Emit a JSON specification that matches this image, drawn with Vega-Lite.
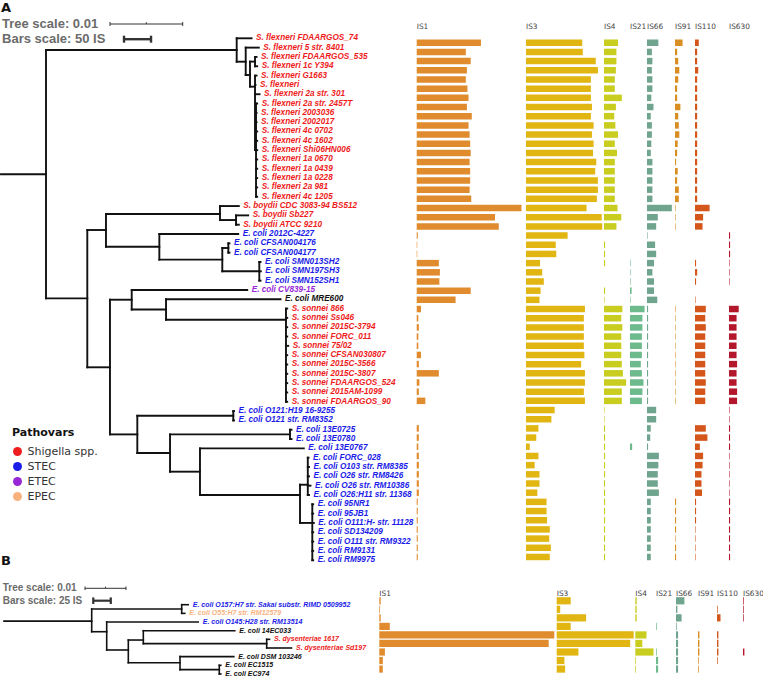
{
"$schema": "https://vega.github.io/schema/vega-lite/v6.json",
"width": 763, "height": 679, "autosize": "none", "padding": 0, "background": "white",
"config": {"view": {"stroke": null}},
"datasets": {
"leavesA": [
{"row":1,"strain":"S. flexneri FDAARGOS_74","pathovar":"Shigella spp.","tip":0.02827,"IS1":119,"IS3":104,"IS4":26,"IS21":0,"IS66":21,"IS91":14,"IS110":7,"IS630":0},
{"row":2,"strain":"S. flexneri 5 str. 8401","pathovar":"Shigella spp.","tip":0.02927,"IS1":91,"IS3":105,"IS4":23,"IS21":0,"IS66":9,"IS91":4,"IS110":4,"IS630":0},
{"row":3,"strain":"S. flexneri FDAARGOS_535","pathovar":"Shigella spp.","tip":0.02896,"IS1":100,"IS3":129,"IS4":23,"IS21":0,"IS66":10,"IS91":6,"IS110":4,"IS630":0},
{"row":4,"strain":"S. flexneri 1c Y394","pathovar":"Shigella spp.","tip":0.02905,"IS1":93,"IS3":133,"IS4":22,"IS21":0,"IS66":9,"IS91":8,"IS110":6,"IS630":0},
{"row":5,"strain":"S. flexneri G1663","pathovar":"Shigella spp.","tip":0.02896,"IS1":91,"IS3":120,"IS4":20,"IS21":0,"IS66":10,"IS91":6,"IS110":4,"IS630":0},
{"row":6,"strain":"S. flexneri","pathovar":"Shigella spp.","tip":0.02882,"IS1":94,"IS3":120,"IS4":20,"IS21":0,"IS66":10,"IS91":4,"IS110":4,"IS630":0},
{"row":7,"strain":"S. flexneri 2a str. 301","pathovar":"Shigella spp.","tip":0.02937,"IS1":96,"IS3":120,"IS4":33,"IS21":0,"IS66":8,"IS91":4,"IS110":4,"IS630":0},
{"row":8,"strain":"S. flexneri 2a str. 2457T","pathovar":"Shigella spp.","tip":0.02905,"IS1":93,"IS3":122,"IS4":22,"IS21":0,"IS66":12,"IS91":10,"IS110":4,"IS630":0},
{"row":9,"strain":"S. flexneri 2003036","pathovar":"Shigella spp.","tip":0.02896,"IS1":102,"IS3":120,"IS4":19,"IS21":0,"IS66":7,"IS91":6,"IS110":4,"IS630":0},
{"row":10,"strain":"S. flexneri 2002017","pathovar":"Shigella spp.","tip":0.02896,"IS1":96,"IS3":125,"IS4":21,"IS21":0,"IS66":9,"IS91":7,"IS110":4,"IS630":0},
{"row":11,"strain":"S. flexneri 4c 0702","pathovar":"Shigella spp.","tip":0.02905,"IS1":98,"IS3":122,"IS4":26,"IS21":0,"IS66":9,"IS91":8,"IS110":4,"IS630":0},
{"row":12,"strain":"S. flexneri 4c 1602","pathovar":"Shigella spp.","tip":0.02905,"IS1":99,"IS3":125,"IS4":20,"IS21":0,"IS66":8,"IS91":5,"IS110":4,"IS630":0},
{"row":13,"strain":"S. flexneri Shi06HN006","pathovar":"Shigella spp.","tip":0.02905,"IS1":100,"IS3":124,"IS4":24,"IS21":0,"IS66":7,"IS91":4,"IS110":4,"IS630":0},
{"row":14,"strain":"S. flexneri 1a 0670","pathovar":"Shigella spp.","tip":0.02905,"IS1":98,"IS3":130,"IS4":20,"IS21":0,"IS66":10,"IS91":2,"IS110":4,"IS630":0},
{"row":15,"strain":"S. flexneri 1a 0439","pathovar":"Shigella spp.","tip":0.02905,"IS1":99,"IS3":128,"IS4":20,"IS21":0,"IS66":10,"IS91":5,"IS110":4,"IS630":0},
{"row":16,"strain":"S. flexneri 1a 0228","pathovar":"Shigella spp.","tip":0.02905,"IS1":99,"IS3":133,"IS4":20,"IS21":0,"IS66":10,"IS91":4,"IS110":4,"IS630":0},
{"row":17,"strain":"S. flexneri 2a 981","pathovar":"Shigella spp.","tip":0.02905,"IS1":98,"IS3":133,"IS4":20,"IS21":0,"IS66":10,"IS91":7,"IS110":4,"IS630":0},
{"row":18,"strain":"S. flexneri 4c 1205","pathovar":"Shigella spp.","tip":0.02905,"IS1":101,"IS3":131,"IS4":20,"IS21":0,"IS66":10,"IS91":7,"IS110":4,"IS630":0},
{"row":19,"strain":"S. boydii CDC 3083-94 BS512","pathovar":"Shigella spp.","tip":0.02652,"IS1":194,"IS3":112,"IS4":25,"IS21":0,"IS66":46,"IS91":1,"IS110":27,"IS630":0},
{"row":20,"strain":"S. boydii Sb227","pathovar":"Shigella spp.","tip":0.02781,"IS1":145,"IS3":140,"IS4":32,"IS21":0,"IS66":20,"IS91":1,"IS110":15,"IS630":0},
{"row":21,"strain":"S. boydii ATCC 9210","pathovar":"Shigella spp.","tip":0.02652,"IS1":152,"IS3":141,"IS4":23,"IS21":0,"IS66":17,"IS91":1,"IS110":14,"IS630":0},
{"row":22,"strain":"E. coli 2012C-4227","pathovar":"STEC","tip":0.02644,"IS1":2,"IS3":77,"IS4":0,"IS21":0,"IS66":1,"IS91":0,"IS110":0,"IS630":2},
{"row":23,"strain":"E. coli CFSAN004176","pathovar":"STEC","tip":0.02524,"IS1":1,"IS3":55,"IS4":2,"IS21":0,"IS66":15,"IS91":0,"IS110":0,"IS630":2},
{"row":24,"strain":"E. coli CFSAN004177","pathovar":"STEC","tip":0.02524,"IS1":1,"IS3":56,"IS4":2,"IS21":0,"IS66":17,"IS91":0,"IS110":0,"IS630":2},
{"row":25,"strain":"E. coli SMN013SH2","pathovar":"STEC","tip":0.02951,"IS1":41,"IS3":26,"IS4":2,"IS21":1,"IS66":13,"IS91":0,"IS110":2,"IS630":1},
{"row":26,"strain":"E. coli SMN197SH3","pathovar":"STEC","tip":0.02955,"IS1":43,"IS3":30,"IS4":0,"IS21":1,"IS66":10,"IS91":0,"IS110":4,"IS630":1},
{"row":27,"strain":"E. coli SMN152SH1","pathovar":"STEC","tip":0.02951,"IS1":42,"IS3":33,"IS4":0,"IS21":1,"IS66":13,"IS91":0,"IS110":2,"IS630":1},
{"row":28,"strain":"E. coli CV839-15","pathovar":"ETEC","tip":0.02768,"IS1":100,"IS3":27,"IS4":2,"IS21":3,"IS66":13,"IS91":0,"IS110":0,"IS630":0},
{"row":29,"strain":"E. coli MRE600","pathovar":"none","tip":0.03226,"IS1":72,"IS3":25,"IS4":1,"IS21":1,"IS66":19,"IS91":0,"IS110":1,"IS630":0},
{"row":30,"strain":"S. sonnei 866","pathovar":"Shigella spp.","tip":0.03318,"IS1":8,"IS3":109,"IS4":34,"IS21":27,"IS66":2,"IS91":1,"IS110":20,"IS630":18},
{"row":31,"strain":"S. sonnei Ss046","pathovar":"Shigella spp.","tip":0.03318,"IS1":3,"IS3":107,"IS4":32,"IS21":23,"IS66":2,"IS91":1,"IS110":19,"IS630":14},
{"row":32,"strain":"S. sonnei 2015C-3794","pathovar":"Shigella spp.","tip":0.03318,"IS1":4,"IS3":107,"IS4":34,"IS21":23,"IS66":2,"IS91":1,"IS110":20,"IS630":14},
{"row":33,"strain":"S. sonnei FORC_011","pathovar":"Shigella spp.","tip":0.03318,"IS1":3,"IS3":107,"IS4":32,"IS21":22,"IS66":2,"IS91":1,"IS110":19,"IS630":14},
{"row":34,"strain":"S. sonnei 75/02","pathovar":"Shigella spp.","tip":0.03332,"IS1":3,"IS3":107,"IS4":32,"IS21":22,"IS66":2,"IS91":1,"IS110":19,"IS630":14},
{"row":35,"strain":"S. sonnei CFSAN030807","pathovar":"Shigella spp.","tip":0.03318,"IS1":8,"IS3":108,"IS4":32,"IS21":22,"IS66":2,"IS91":1,"IS110":19,"IS630":14},
{"row":36,"strain":"S. sonnei 2015C-3566","pathovar":"Shigella spp.","tip":0.03318,"IS1":4,"IS3":102,"IS4":33,"IS21":20,"IS66":2,"IS91":1,"IS110":19,"IS630":15},
{"row":37,"strain":"S. sonnei 2015C-3807","pathovar":"Shigella spp.","tip":0.03318,"IS1":41,"IS3":109,"IS4":35,"IS21":22,"IS66":2,"IS91":1,"IS110":19,"IS630":14},
{"row":38,"strain":"S. sonnei FDAARGOS_524","pathovar":"Shigella spp.","tip":0.03318,"IS1":5,"IS3":109,"IS4":41,"IS21":25,"IS66":2,"IS91":1,"IS110":20,"IS630":14},
{"row":39,"strain":"S. sonnei 2015AM-1099","pathovar":"Shigella spp.","tip":0.03318,"IS1":4,"IS3":107,"IS4":33,"IS21":23,"IS66":2,"IS91":1,"IS110":19,"IS630":15},
{"row":40,"strain":"S. sonnei FDAARGOS_90","pathovar":"Shigella spp.","tip":0.03318,"IS1":16,"IS3":109,"IS4":33,"IS21":22,"IS66":2,"IS91":1,"IS110":19,"IS630":15},
{"row":41,"strain":"E. coli O121:H19 16-9255","pathovar":"STEC","tip":0.02586,"IS1":0,"IS3":53,"IS4":1,"IS21":0,"IS66":17,"IS91":0,"IS110":0,"IS630":1},
{"row":42,"strain":"E. coli O121 str. RM8352","pathovar":"STEC","tip":0.02586,"IS1":0,"IS3":47,"IS4":1,"IS21":0,"IS66":17,"IS91":0,"IS110":0,"IS630":1},
{"row":43,"strain":"E. coli 13E0725","pathovar":"STEC","tip":0.03377,"IS1":4,"IS3":23,"IS4":2,"IS21":0,"IS66":7,"IS91":0,"IS110":20,"IS630":2},
{"row":44,"strain":"E. coli 13E0780","pathovar":"STEC","tip":0.03377,"IS1":4,"IS3":19,"IS4":2,"IS21":0,"IS66":6,"IS91":0,"IS110":23,"IS630":2},
{"row":45,"strain":"E. coli 13E0767","pathovar":"STEC","tip":0.03546,"IS1":3,"IS3":7,"IS4":2,"IS21":4,"IS66":2,"IS91":0,"IS110":9,"IS630":2},
{"row":46,"strain":"E. coli FORC_028","pathovar":"STEC","tip":0.03611,"IS1":4,"IS3":23,"IS4":2,"IS21":0,"IS66":22,"IS91":0,"IS110":15,"IS630":1},
{"row":47,"strain":"E. coli O103 str. RM8385","pathovar":"STEC","tip":0.03618,"IS1":4,"IS3":16,"IS4":2,"IS21":0,"IS66":21,"IS91":0,"IS110":14,"IS630":1},
{"row":48,"strain":"E. coli O26 str. RM8426","pathovar":"STEC","tip":0.03618,"IS1":4,"IS3":25,"IS4":2,"IS21":0,"IS66":20,"IS91":0,"IS110":12,"IS630":1},
{"row":49,"strain":"E. coli O26 str. RM10386","pathovar":"STEC","tip":0.03638,"IS1":4,"IS3":25,"IS4":2,"IS21":0,"IS66":20,"IS91":0,"IS110":12,"IS630":1},
{"row":50,"strain":"E. coli O26:H11 str. 11368","pathovar":"STEC","tip":0.03618,"IS1":4,"IS3":21,"IS4":2,"IS21":0,"IS66":22,"IS91":0,"IS110":13,"IS630":1},
{"row":51,"strain":"E. coli 95NR1","pathovar":"STEC","tip":0.03675,"IS1":2,"IS3":38,"IS4":2,"IS21":0,"IS66":7,"IS91":2,"IS110":2,"IS630":2},
{"row":52,"strain":"E. coli 95JB1","pathovar":"STEC","tip":0.03675,"IS1":2,"IS3":38,"IS4":2,"IS21":0,"IS66":7,"IS91":2,"IS110":2,"IS630":2},
{"row":53,"strain":"E. coli O111:H- str. 11128","pathovar":"STEC","tip":0.03684,"IS1":2,"IS3":39,"IS4":2,"IS21":0,"IS66":7,"IS91":2,"IS110":2,"IS630":2},
{"row":54,"strain":"E. coli SD134209","pathovar":"STEC","tip":0.03675,"IS1":2,"IS3":44,"IS4":2,"IS21":0,"IS66":7,"IS91":2,"IS110":1,"IS630":2},
{"row":55,"strain":"E. coli O111 str. RM9322","pathovar":"STEC","tip":0.03675,"IS1":2,"IS3":43,"IS4":2,"IS21":0,"IS66":7,"IS91":1,"IS110":1,"IS630":2},
{"row":56,"strain":"E. coli RM9131","pathovar":"STEC","tip":0.03675,"IS1":2,"IS3":46,"IS4":2,"IS21":0,"IS66":7,"IS91":2,"IS110":1,"IS630":2},
{"row":57,"strain":"E. coli RM9975","pathovar":"STEC","tip":0.03675,"IS1":2,"IS3":44,"IS4":2,"IS21":0,"IS66":7,"IS91":2,"IS110":1,"IS630":2}
],
"treeA": [
{"x":-0.00619,"x2":0,"y":15.59,"y2":15.59},{"x":0,"x2":0,"y":2.255,"y2":28.9},{"x":0,"x2":0.02623,"y":2.255,"y2":2.255},{"x":0,"x2":0.00568,"y":28.9,"y2":28.9},
{"x":0.02623,"x2":0.02623,"y":1,"y2":3.51},{"x":0.02623,"x2":0.02827,"y":1,"y2":1},{"x":0.02623,"x2":0.02747,"y":3.51,"y2":3.51},
{"x":0.02747,"x2":0.02747,"y":2,"y2":4.94},{"x":0.02747,"x2":0.02927,"y":2,"y2":2},{"x":0.02747,"x2":0.02806,"y":4.94,"y2":4.94},
{"x":0.02806,"x2":0.02806,"y":3.5,"y2":6.19},{"x":0.02806,"x2":0.02875,"y":3.5,"y2":3.5},{"x":0.02806,"x2":0.02875,"y":6.19,"y2":6.19},
{"x":0.02875,"x2":0.02875,"y":3,"y2":4},{"x":0.02875,"x2":0.02896,"y":3,"y2":3},{"x":0.02875,"x2":0.02905,"y":4,"y2":4},
{"x":0.02875,"x2":0.02875,"y":5,"y2":13},{"x":0.02875,"x2":0.02896,"y":5,"y2":5},{"x":0.02875,"x2":0.02882,"y":6,"y2":6},{"x":0.02875,"x2":0.02937,"y":7,"y2":7},
{"x":0.02875,"x2":0.02889,"y":13,"y2":13},{"x":0.02889,"x2":0.02889,"y":8,"y2":18},
{"x":0.02889,"x2":0.02905,"y":8,"y2":8},{"x":0.02889,"x2":0.02896,"y":9,"y2":9},{"x":0.02889,"x2":0.02896,"y":10,"y2":10},{"x":0.02889,"x2":0.02905,"y":11,"y2":11},
{"x":0.02889,"x2":0.02905,"y":12,"y2":12},{"x":0.02889,"x2":0.02905,"y":13,"y2":13},{"x":0.02889,"x2":0.02905,"y":14,"y2":14},{"x":0.02889,"x2":0.02905,"y":15,"y2":15},
{"x":0.02889,"x2":0.02905,"y":16,"y2":16},{"x":0.02889,"x2":0.02905,"y":17,"y2":17},{"x":0.02889,"x2":0.02905,"y":18,"y2":18},
{"x":0.00568,"x2":0.00568,"y":21.57,"y2":36.3},{"x":0.00568,"x2":0.00825,"y":21.57,"y2":21.57},{"x":0.00568,"x2":0.0088,"y":36.3,"y2":36.3},
{"x":0.00825,"x2":0.00825,"y":19.85,"y2":23.36},{"x":0.00825,"x2":0.02393,"y":19.85,"y2":19.85},{"x":0.00825,"x2":0.01559,"y":23.36,"y2":23.36},
{"x":0.02393,"x2":0.02393,"y":19,"y2":20.5},{"x":0.02393,"x2":0.02652,"y":19,"y2":19},{"x":0.02393,"x2":0.02614,"y":20.5,"y2":20.5},
{"x":0.02614,"x2":0.02614,"y":20,"y2":21},{"x":0.02614,"x2":0.02781,"y":20,"y2":20},{"x":0.02614,"x2":0.02652,"y":21,"y2":21},
{"x":0.01559,"x2":0.01559,"y":22,"y2":24.75},{"x":0.01559,"x2":0.02644,"y":22,"y2":22},{"x":0.01559,"x2":0.02425,"y":24.75,"y2":24.75},
{"x":0.02425,"x2":0.02425,"y":23.5,"y2":26},{"x":0.02425,"x2":0.02508,"y":23.5,"y2":23.5},{"x":0.02508,"x2":0.02508,"y":23,"y2":24},
{"x":0.02508,"x2":0.02524,"y":23,"y2":23},{"x":0.02508,"x2":0.02524,"y":24,"y2":24},
{"x":0.02425,"x2":0.02934,"y":26,"y2":26},{"x":0.02934,"x2":0.02934,"y":25,"y2":27},
{"x":0.02934,"x2":0.02951,"y":25,"y2":25},{"x":0.02934,"x2":0.02955,"y":26,"y2":26},{"x":0.02934,"x2":0.02951,"y":27,"y2":27},
{"x":0.0088,"x2":0.0088,"y":29.05,"y2":43.5},{"x":0.0088,"x2":0.01179,"y":29.05,"y2":29.05},
{"x":0.01179,"x2":0.01179,"y":28,"y2":30.1},{"x":0.01179,"x2":0.02768,"y":28,"y2":28},{"x":0.01179,"x2":0.01651,"y":30.1,"y2":30.1},
{"x":0.01651,"x2":0.01651,"y":29,"y2":31.2},{"x":0.01651,"x2":0.03226,"y":29,"y2":29},{"x":0.01651,"x2":0.03301,"y":31.2,"y2":31.2},
{"x":0.03301,"x2":0.03301,"y":30,"y2":40},
{"x":0.03301,"x2":0.03318,"y":30,"y2":30},{"x":0.03301,"x2":0.03318,"y":31,"y2":31},{"x":0.03301,"x2":0.03318,"y":32,"y2":32},{"x":0.03301,"x2":0.03318,"y":33,"y2":33},
{"x":0.03301,"x2":0.03332,"y":34,"y2":34},{"x":0.03301,"x2":0.03318,"y":35,"y2":35},{"x":0.03301,"x2":0.03318,"y":36,"y2":36},{"x":0.03301,"x2":0.03318,"y":37,"y2":37},
{"x":0.03301,"x2":0.03318,"y":38,"y2":38},{"x":0.03301,"x2":0.03318,"y":39,"y2":39},{"x":0.03301,"x2":0.03318,"y":40,"y2":40},
{"x":0.0088,"x2":0.01256,"y":43.5,"y2":43.5},{"x":0.01256,"x2":0.01256,"y":41.5,"y2":45.5},{"x":0.01256,"x2":0.02576,"y":41.5,"y2":41.5},
{"x":0.02576,"x2":0.02576,"y":41,"y2":42},{"x":0.02576,"x2":0.02586,"y":41,"y2":41},{"x":0.02576,"x2":0.02586,"y":42,"y2":42},
{"x":0.01256,"x2":0.01706,"y":45.5,"y2":45.5},{"x":0.01706,"x2":0.01706,"y":43.5,"y2":47.5},{"x":0.01706,"x2":0.03356,"y":43.5,"y2":43.5},
{"x":0.03356,"x2":0.03356,"y":43,"y2":44},{"x":0.03356,"x2":0.03377,"y":43,"y2":43},{"x":0.03356,"x2":0.03377,"y":44,"y2":44},
{"x":0.01706,"x2":0.02118,"y":47.5,"y2":47.5},{"x":0.02118,"x2":0.02118,"y":45,"y2":50},{"x":0.02118,"x2":0.03546,"y":45,"y2":45},
{"x":0.02118,"x2":0.03494,"y":50,"y2":50},{"x":0.03494,"x2":0.03494,"y":48.9,"y2":53},
{"x":0.03494,"x2":0.03601,"y":48.9,"y2":48.9},{"x":0.03601,"x2":0.03601,"y":46,"y2":50},
{"x":0.03601,"x2":0.03611,"y":46,"y2":46},{"x":0.03601,"x2":0.03618,"y":47,"y2":47},{"x":0.03601,"x2":0.03618,"y":48,"y2":48},{"x":0.03601,"x2":0.03638,"y":49,"y2":49},{"x":0.03601,"x2":0.03618,"y":50,"y2":50},
{"x":0.03494,"x2":0.03663,"y":53,"y2":53},{"x":0.03663,"x2":0.03663,"y":51,"y2":57},
{"x":0.03663,"x2":0.03675,"y":51,"y2":51},{"x":0.03663,"x2":0.03675,"y":52,"y2":52},{"x":0.03663,"x2":0.03684,"y":53,"y2":53},{"x":0.03663,"x2":0.03675,"y":54,"y2":54},
{"x":0.03663,"x2":0.03675,"y":55,"y2":55},{"x":0.03663,"x2":0.03675,"y":56,"y2":56},{"x":0.03663,"x2":0.03675,"y":57,"y2":57}
],
"leavesB": [
{"row":1,"strain":"E. coli O157:H7 str. Sakai substr. RIMD 0509952","pathovar":"STEC","tip":0.02354,"IS1":2,"IS3":20,"IS4":2,"IS21":0,"IS66":12,"IS91":0,"IS110":0,"IS630":1},
{"row":2,"strain":"E. coli O55:H7 str. RM12579","pathovar":"EPEC","tip":0.02271,"IS1":1,"IS3":5,"IS4":2,"IS21":0,"IS66":2,"IS91":0,"IS110":1,"IS630":1},
{"row":3,"strain":"E. coli O145:H28 str. RM13514","pathovar":"STEC","tip":0.02598,"IS1":2,"IS3":42,"IS4":2,"IS21":0,"IS66":8,"IS91":0,"IS110":5,"IS630":1},
{"row":4,"strain":"E. coli 14EC033","pathovar":"none","tip":0.0349,"IS1":15,"IS3":20,"IS4":0,"IS21":1,"IS66":1,"IS91":0,"IS110":0,"IS630":0},
{"row":5,"strain":"S. dysenteriae 1617","pathovar":"Shigella spp.","tip":0.04337,"IS1":250,"IS3":110,"IS4":16,"IS21":0,"IS66":3,"IS91":2,"IS110":2,"IS630":0},
{"row":6,"strain":"S. dysenteriae Sd197","pathovar":"Shigella spp.","tip":0.04873,"IS1":242,"IS3":105,"IS4":10,"IS21":0,"IS66":3,"IS91":2,"IS110":2,"IS630":0},
{"row":7,"strain":"E. coli DSM 103246","pathovar":"none","tip":0.03466,"IS1":8,"IS3":31,"IS4":26,"IS21":1,"IS66":3,"IS91":2,"IS110":2,"IS630":2},
{"row":8,"strain":"E. coli EC1515","pathovar":"none","tip":0.03149,"IS1":5,"IS3":11,"IS4":1,"IS21":3,"IS66":3,"IS91":1,"IS110":1,"IS630":0},
{"row":9,"strain":"E. coli EC974","pathovar":"none","tip":0.03149,"IS1":5,"IS3":12,"IS4":1,"IS21":3,"IS66":3,"IS91":1,"IS110":0,"IS630":0}
],
"treeB": [
{"x":-0.02139,"x2":0,"y":2.9,"y2":2.9},{"x":0,"x2":0,"y":1.5,"y2":4.12},{"x":0,"x2":0.02195,"y":1.5,"y2":1.5},
{"x":0.02195,"x2":0.02195,"y":1,"y2":2},{"x":0.02195,"x2":0.02354,"y":1,"y2":1},{"x":0.02195,"x2":0.02271,"y":2,"y2":2},
{"x":0,"x2":0.00366,"y":4.12,"y2":4.12},{"x":0.00366,"x2":0.00366,"y":3,"y2":6.23},{"x":0.00366,"x2":0.02598,"y":3,"y2":3},
{"x":0.00366,"x2":0.00893,"y":6.23,"y2":6.23},{"x":0.00893,"x2":0.00893,"y":5.08,"y2":7.7},
{"x":0.00893,"x2":0.01259,"y":5.08,"y2":5.08},{"x":0.01259,"x2":0.01259,"y":4,"y2":5.5},{"x":0.01259,"x2":0.0349,"y":4,"y2":4},
{"x":0.01259,"x2":0.04268,"y":5.5,"y2":5.5},{"x":0.04268,"x2":0.04268,"y":5,"y2":6},{"x":0.04268,"x2":0.04337,"y":5,"y2":5},{"x":0.04268,"x2":0.04873,"y":6,"y2":6},
{"x":0.00893,"x2":0.02154,"y":7.7,"y2":7.7},{"x":0.02154,"x2":0.02154,"y":7,"y2":8.5},{"x":0.02154,"x2":0.03466,"y":7,"y2":7},
{"x":0.02154,"x2":0.03112,"y":8.5,"y2":8.5},{"x":0.03112,"x2":0.03112,"y":8,"y2":9},{"x":0.03112,"x2":0.03149,"y":8,"y2":8},{"x":0.03112,"x2":0.03149,"y":9,"y2":9}
]
},
"layer": [
{"data":{"name":"treeA"},"mark":{"type":"rule","strokeWidth":1.9,"color":"#111111","strokeCap":"square"},
 "encoding":{"x":{"field":"x","type":"quantitative","scale":{"domain":[-0.0063274,0.0986245],"nice":false,"zero":false},"axis":null},"x2":{"field":"x2"},
 "y":{"field":"y","type":"quantitative","scale":{"domain":[-3.1094,69.745],"nice":false,"zero":false,"reverse":true},"axis":null},"y2":{"field":"y2"}}},
{"data":{"name":"leavesA"},"mark":{"type":"text","font":"Liberation Sans","fontStyle":"italic","fontWeight":"bold","fontSize":8.2,"align":"left","baseline":"middle","dx":4.5},
 "encoding":{"x":{"field":"tip","type":"quantitative","scale":{"domain":[-0.0063274,0.0986245],"nice":false,"zero":false},"axis":null},
 "y":{"field":"row","type":"quantitative","scale":{"domain":[-3.1094,69.745],"nice":false,"zero":false,"reverse":true},"axis":null},
 "text":{"field":"strain"},
 "color":{"field":"pathovar","type":"nominal","scale":{"domain":["Shigella spp.","STEC","ETEC","EPEC","none"],"range":["#ee1c1c","#1c1ce8","#9626d6","#f9b27e","#111111"]},
  "legend":{"title":"Pathovars","orient":"none","legendX":12,"legendY":427,"values":["Shigella spp.","STEC","ETEC","EPEC"],"symbolType":"circle","symbolSize":80,"symbolStrokeWidth":0,"symbolOpacity":1,"titleFont":"DejaVu Sans","titleFontSize":11,"titleFontWeight":"bold","titleColor":"#111","labelFont":"DejaVu Sans","labelFontSize":11,"labelColor":"#333","titlePadding":8,"rowPadding":3,"labelOffset":4.5}}}},
{"data":{"name":"leavesA"},"mark":{"type":"bar","orient":"horizontal","size":6.5,"color":"#E08B2E"},"encoding":{"x":{"field":"IS1","type":"quantitative","scale":{"domain":[-771.67,641.3],"nice":false,"zero":false},"axis":null},"x2":{"datum":0},"y":{"field":"row","type":"quantitative","scale":{"domain":[-3.1094,69.745],"nice":false,"zero":false,"reverse":true},"axis":null}}},
{"data":{"name":"leavesA"},"mark":{"type":"bar","orient":"horizontal","size":6.5,"color":"#E1B512"},"encoding":{"x":{"field":"IS3","type":"quantitative","scale":{"domain":[-972.78,438.33],"nice":false,"zero":false},"axis":null},"x2":{"datum":0},"y":{"field":"row","type":"quantitative","scale":{"domain":[-3.1094,69.745],"nice":false,"zero":false,"reverse":true},"axis":null}}},
{"data":{"name":"leavesA"},"mark":{"type":"bar","orient":"horizontal","size":6.5,"color":"#C9CD1F"},"encoding":{"x":{"field":"IS4","type":"quantitative","scale":{"domain":[-1118.52,294.44],"nice":false,"zero":false},"axis":null},"x2":{"datum":0},"y":{"field":"row","type":"quantitative","scale":{"domain":[-3.1094,69.745],"nice":false,"zero":false,"reverse":true},"axis":null}}},
{"data":{"name":"leavesA"},"mark":{"type":"bar","orient":"horizontal","size":6.5,"color":"#6DBA8D"},"encoding":{"x":{"field":"IS21","type":"quantitative","scale":{"domain":[-1166.67,246.3],"nice":false,"zero":false},"axis":null},"x2":{"datum":0},"y":{"field":"row","type":"quantitative","scale":{"domain":[-3.1094,69.745],"nice":false,"zero":false,"reverse":true},"axis":null}}},
{"data":{"name":"leavesA"},"mark":{"type":"bar","orient":"horizontal","size":6.5,"color":"#6FA48F"},"encoding":{"x":{"field":"IS66","type":"quantitative","scale":{"domain":[-1198.15,214.81],"nice":false,"zero":false},"axis":null},"x2":{"datum":0},"y":{"field":"row","type":"quantitative","scale":{"domain":[-3.1094,69.745],"nice":false,"zero":false,"reverse":true},"axis":null}}},
{"data":{"name":"leavesA"},"mark":{"type":"bar","orient":"horizontal","size":6.5,"color":"#D88E22"},"encoding":{"x":{"field":"IS91","type":"quantitative","scale":{"domain":[-1250,162.96],"nice":false,"zero":false},"axis":null},"x2":{"datum":0},"y":{"field":"row","type":"quantitative","scale":{"domain":[-3.1094,69.745],"nice":false,"zero":false,"reverse":true},"axis":null}}},
{"data":{"name":"leavesA"},"mark":{"type":"bar","orient":"horizontal","size":6.5,"color":"#D5561A"},"encoding":{"x":{"field":"IS110","type":"quantitative","scale":{"domain":[-1287.04,125.93],"nice":false,"zero":false},"axis":null},"x2":{"datum":0},"y":{"field":"row","type":"quantitative","scale":{"domain":[-3.1094,69.745],"nice":false,"zero":false,"reverse":true},"axis":null}}},
{"data":{"name":"leavesA"},"mark":{"type":"bar","orient":"horizontal","size":6.5,"color":"#B3172C"},"encoding":{"x":{"field":"IS630","type":"quantitative","scale":{"domain":[-1350,62.96],"nice":false,"zero":false},"axis":null},"x2":{"datum":0},"y":{"field":"row","type":"quantitative","scale":{"domain":[-3.1094,69.745],"nice":false,"zero":false,"reverse":true},"axis":null}}},
{"data":{"values":[{"h":"IS1"}]},"mark":{"type":"text","font":"DejaVu Sans","fontSize":7.4,"color":"#444","align":"left","baseline":"middle"},"encoding":{"x":{"datum":0,"type":"quantitative","scale":{"domain":[-771.67,641.3],"nice":false,"zero":false},"axis":null},"y":{"datum":-0.245,"type":"quantitative","scale":{"domain":[-3.1094,69.745],"nice":false,"zero":false,"reverse":true},"axis":null},"text":{"field":"h"}}},
{"data":{"values":[{"h":"IS3"}]},"mark":{"type":"text","font":"DejaVu Sans","fontSize":7.4,"color":"#444","align":"left","baseline":"middle"},"encoding":{"x":{"datum":0,"type":"quantitative","scale":{"domain":[-972.78,438.33],"nice":false,"zero":false},"axis":null},"y":{"datum":-0.245,"type":"quantitative","scale":{"domain":[-3.1094,69.745],"nice":false,"zero":false,"reverse":true},"axis":null},"text":{"field":"h"}}},
{"data":{"values":[{"h":"IS4"}]},"mark":{"type":"text","font":"DejaVu Sans","fontSize":7.4,"color":"#444","align":"left","baseline":"middle"},"encoding":{"x":{"datum":0,"type":"quantitative","scale":{"domain":[-1118.52,294.44],"nice":false,"zero":false},"axis":null},"y":{"datum":-0.245,"type":"quantitative","scale":{"domain":[-3.1094,69.745],"nice":false,"zero":false,"reverse":true},"axis":null},"text":{"field":"h"}}},
{"data":{"values":[{"h":"IS21"}]},"mark":{"type":"text","font":"DejaVu Sans","fontSize":7.4,"color":"#444","align":"left","baseline":"middle"},"encoding":{"x":{"datum":0,"type":"quantitative","scale":{"domain":[-1166.67,246.3],"nice":false,"zero":false},"axis":null},"y":{"datum":-0.245,"type":"quantitative","scale":{"domain":[-3.1094,69.745],"nice":false,"zero":false,"reverse":true},"axis":null},"text":{"field":"h"}}},
{"data":{"values":[{"h":"IS66"}]},"mark":{"type":"text","font":"DejaVu Sans","fontSize":7.4,"color":"#444","align":"left","baseline":"middle"},"encoding":{"x":{"datum":0,"type":"quantitative","scale":{"domain":[-1198.15,214.81],"nice":false,"zero":false},"axis":null},"y":{"datum":-0.245,"type":"quantitative","scale":{"domain":[-3.1094,69.745],"nice":false,"zero":false,"reverse":true},"axis":null},"text":{"field":"h"}}},
{"data":{"values":[{"h":"IS91"}]},"mark":{"type":"text","font":"DejaVu Sans","fontSize":7.4,"color":"#444","align":"left","baseline":"middle"},"encoding":{"x":{"datum":0,"type":"quantitative","scale":{"domain":[-1250,162.96],"nice":false,"zero":false},"axis":null},"y":{"datum":-0.245,"type":"quantitative","scale":{"domain":[-3.1094,69.745],"nice":false,"zero":false,"reverse":true},"axis":null},"text":{"field":"h"}}},
{"data":{"values":[{"h":"IS110"}]},"mark":{"type":"text","font":"DejaVu Sans","fontSize":7.4,"color":"#444","align":"left","baseline":"middle"},"encoding":{"x":{"datum":0,"type":"quantitative","scale":{"domain":[-1287.04,125.93],"nice":false,"zero":false},"axis":null},"y":{"datum":-0.245,"type":"quantitative","scale":{"domain":[-3.1094,69.745],"nice":false,"zero":false,"reverse":true},"axis":null},"text":{"field":"h"}}},
{"data":{"values":[{"h":"IS630"}]},"mark":{"type":"text","font":"DejaVu Sans","fontSize":7.4,"color":"#444","align":"left","baseline":"middle"},"encoding":{"x":{"datum":0,"type":"quantitative","scale":{"domain":[-1350,62.96],"nice":false,"zero":false},"axis":null},"y":{"datum":-0.245,"type":"quantitative","scale":{"domain":[-3.1094,69.745],"nice":false,"zero":false,"reverse":true},"axis":null},"text":{"field":"h"}}},
{"data":{"values":[{"t":"A"}]},"mark":{"type":"text","font":"DejaVu Sans","fontWeight":"bold","fontSize":13,"color":"#111","align":"left","baseline":"alphabetic"},"encoding":{"x":{"datum":-0.0062,"type":"quantitative","scale":{"domain":[-0.0063274,0.0986245],"nice":false,"zero":false},"axis":null},"y":{"datum":-1.85,"type":"quantitative","scale":{"domain":[-3.1094,69.745],"nice":false,"zero":false,"reverse":true},"axis":null},"text":{"field":"t"}}},
{"data":{"values":[{"t":"Tree scale: 0.01","x":-0.00605,"y":-0.534},{"t":"Bars scale: 50 IS","x":-0.00605,"y":1.097}]},"mark":{"type":"text","font":"Liberation Sans","fontWeight":"bold","fontSize":13,"color":"#6b6b6b","align":"left","baseline":"middle"},"encoding":{"x":{"field":"x","type":"quantitative","scale":{"domain":[-0.0063274,0.0986245],"nice":false,"zero":false},"axis":null},"y":{"field":"y","type":"quantitative","scale":{"domain":[-3.1094,69.745],"nice":false,"zero":false,"reverse":true},"axis":null},"text":{"field":"t"}}},
{"data":{"values":[{"x":0.008803,"x2":0.018803,"y":-0.534,"y2":-0.534},{"x":0.008803,"x2":0.008803,"y":-0.75,"y2":-0.32},{"x":0.018803,"x2":0.018803,"y":-0.75,"y2":-0.32},{"x":0.013803,"x2":0.013803,"y":-0.72,"y2":-0.534}]},"mark":{"type":"rule","strokeWidth":1,"color":"#333"},"encoding":{"x":{"field":"x","type":"quantitative","scale":{"domain":[-0.0063274,0.0986245],"nice":false,"zero":false},"axis":null},"x2":{"field":"x2"},"y":{"field":"y","type":"quantitative","scale":{"domain":[-3.1094,69.745],"nice":false,"zero":false,"reverse":true},"axis":null},"y2":{"field":"y2"}}},
{"data":{"values":[{"x":-542,"x2":-492,"y":1.097,"y2":1.097},{"x":-542,"x2":-542,"y":0.72,"y2":1.47},{"x":-492,"x2":-492,"y":0.72,"y2":1.47}]},"mark":{"type":"rule","strokeWidth":2.4,"color":"#333"},"encoding":{"x":{"field":"x","type":"quantitative","scale":{"domain":[-771.67,641.3],"nice":false,"zero":false},"axis":null},"x2":{"field":"x2"},"y":{"field":"y","type":"quantitative","scale":{"domain":[-3.1094,69.745],"nice":false,"zero":false,"reverse":true},"axis":null},"y2":{"field":"y2"}}},

{"data":{"name":"treeB"},"mark":{"type":"rule","strokeWidth":1.6,"color":"#111111","strokeCap":"square"},
 "encoding":{"x":{"field":"x","type":"quantitative","scale":{"domain":[-0.022366,0.163732],"nice":false,"zero":false},"axis":null},"x2":{"field":"x2"},
 "y":{"field":"y","type":"quantitative","scale":{"domain":[-68.826,9.5797],"nice":false,"zero":false,"reverse":true},"axis":null},"y2":{"field":"y2"}}},
{"data":{"name":"leavesB"},"mark":{"type":"text","font":"Liberation Sans","fontStyle":"italic","fontWeight":"bold","fontSize":7,"align":"left","baseline":"middle","dx":4.5},
 "encoding":{"x":{"field":"tip","type":"quantitative","scale":{"domain":[-0.022366,0.163732],"nice":false,"zero":false},"axis":null},
 "y":{"field":"row","type":"quantitative","scale":{"domain":[-68.826,9.5797],"nice":false,"zero":false,"reverse":true},"axis":null},
 "text":{"field":"strain"},
 "color":{"field":"pathovar","type":"nominal","scale":{"domain":["Shigella spp.","STEC","ETEC","EPEC","none"],"range":["#ee1c1c","#1c1ce8","#9626d6","#f9b27e","#111111"]}}}},
{"data":{"name":"leavesB"},"mark":{"type":"bar","orient":"horizontal","size":7.2,"color":"#E08B2E"},"encoding":{"x":{"field":"IS1","type":"quantitative","scale":{"domain":[-541.86,548.14],"nice":false,"zero":false},"axis":null},"x2":{"datum":0},"y":{"field":"row","type":"quantitative","scale":{"domain":[-68.826,9.5797],"nice":false,"zero":false,"reverse":true},"axis":null}}},
{"data":{"name":"leavesB"},"mark":{"type":"bar","orient":"horizontal","size":7.2,"color":"#E1B512"},"encoding":{"x":{"field":"IS3","type":"quantitative","scale":{"domain":[-795.29,294.71],"nice":false,"zero":false},"axis":null},"x2":{"datum":0},"y":{"field":"row","type":"quantitative","scale":{"domain":[-68.826,9.5797],"nice":false,"zero":false,"reverse":true},"axis":null}}},
{"data":{"name":"leavesB"},"mark":{"type":"bar","orient":"horizontal","size":7.2,"color":"#C9CD1F"},"encoding":{"x":{"field":"IS4","type":"quantitative","scale":{"domain":[-907.57,182.43],"nice":false,"zero":false},"axis":null},"x2":{"datum":0},"y":{"field":"row","type":"quantitative","scale":{"domain":[-68.826,9.5797],"nice":false,"zero":false,"reverse":true},"axis":null}}},
{"data":{"name":"leavesB"},"mark":{"type":"bar","orient":"horizontal","size":7.2,"color":"#6DBA8D"},"encoding":{"x":{"field":"IS21","type":"quantitative","scale":{"domain":[-937.14,152.86],"nice":false,"zero":false},"axis":null},"x2":{"datum":0},"y":{"field":"row","type":"quantitative","scale":{"domain":[-68.826,9.5797],"nice":false,"zero":false,"reverse":true},"axis":null}}},
{"data":{"name":"leavesB"},"mark":{"type":"bar","orient":"horizontal","size":7.2,"color":"#6FA48F"},"encoding":{"x":{"field":"IS66","type":"quantitative","scale":{"domain":[-965.71,124.29],"nice":false,"zero":false},"axis":null},"x2":{"datum":0},"y":{"field":"row","type":"quantitative","scale":{"domain":[-68.826,9.5797],"nice":false,"zero":false,"reverse":true},"axis":null}}},
{"data":{"name":"leavesB"},"mark":{"type":"bar","orient":"horizontal","size":7.2,"color":"#D88E22"},"encoding":{"x":{"field":"IS91","type":"quantitative","scale":{"domain":[-997.14,92.86],"nice":false,"zero":false},"axis":null},"x2":{"datum":0},"y":{"field":"row","type":"quantitative","scale":{"domain":[-68.826,9.5797],"nice":false,"zero":false,"reverse":true},"axis":null}}},
{"data":{"name":"leavesB"},"mark":{"type":"bar","orient":"horizontal","size":7.2,"color":"#D5561A"},"encoding":{"x":{"field":"IS110","type":"quantitative","scale":{"domain":[-1024.29,65.71],"nice":false,"zero":false},"axis":null},"x2":{"datum":0},"y":{"field":"row","type":"quantitative","scale":{"domain":[-68.826,9.5797],"nice":false,"zero":false,"reverse":true},"axis":null}}},
{"data":{"name":"leavesB"},"mark":{"type":"bar","orient":"horizontal","size":7.2,"color":"#B3172C"},"encoding":{"x":{"field":"IS630","type":"quantitative","scale":{"domain":[-1061.43,28.57],"nice":false,"zero":false},"axis":null},"x2":{"datum":0},"y":{"field":"row","type":"quantitative","scale":{"domain":[-68.826,9.5797],"nice":false,"zero":false,"reverse":true},"axis":null}}},
{"data":{"values":[{"h":"IS1"}]},"mark":{"type":"text","font":"DejaVu Sans","fontSize":7.4,"color":"#444","align":"left","baseline":"middle"},"encoding":{"x":{"datum":0,"type":"quantitative","scale":{"domain":[-541.86,548.14],"nice":false,"zero":false},"axis":null},"y":{"datum":-0.236,"type":"quantitative","scale":{"domain":[-68.826,9.5797],"nice":false,"zero":false,"reverse":true},"axis":null},"text":{"field":"h"}}},
{"data":{"values":[{"h":"IS3"}]},"mark":{"type":"text","font":"DejaVu Sans","fontSize":7.4,"color":"#444","align":"left","baseline":"middle"},"encoding":{"x":{"datum":0,"type":"quantitative","scale":{"domain":[-795.29,294.71],"nice":false,"zero":false},"axis":null},"y":{"datum":-0.236,"type":"quantitative","scale":{"domain":[-68.826,9.5797],"nice":false,"zero":false,"reverse":true},"axis":null},"text":{"field":"h"}}},
{"data":{"values":[{"h":"IS4"}]},"mark":{"type":"text","font":"DejaVu Sans","fontSize":7.4,"color":"#444","align":"left","baseline":"middle"},"encoding":{"x":{"datum":0,"type":"quantitative","scale":{"domain":[-907.57,182.43],"nice":false,"zero":false},"axis":null},"y":{"datum":-0.236,"type":"quantitative","scale":{"domain":[-68.826,9.5797],"nice":false,"zero":false,"reverse":true},"axis":null},"text":{"field":"h"}}},
{"data":{"values":[{"h":"IS21"}]},"mark":{"type":"text","font":"DejaVu Sans","fontSize":7.4,"color":"#444","align":"left","baseline":"middle"},"encoding":{"x":{"datum":0,"type":"quantitative","scale":{"domain":[-937.14,152.86],"nice":false,"zero":false},"axis":null},"y":{"datum":-0.236,"type":"quantitative","scale":{"domain":[-68.826,9.5797],"nice":false,"zero":false,"reverse":true},"axis":null},"text":{"field":"h"}}},
{"data":{"values":[{"h":"IS66"}]},"mark":{"type":"text","font":"DejaVu Sans","fontSize":7.4,"color":"#444","align":"left","baseline":"middle"},"encoding":{"x":{"datum":0,"type":"quantitative","scale":{"domain":[-965.71,124.29],"nice":false,"zero":false},"axis":null},"y":{"datum":-0.236,"type":"quantitative","scale":{"domain":[-68.826,9.5797],"nice":false,"zero":false,"reverse":true},"axis":null},"text":{"field":"h"}}},
{"data":{"values":[{"h":"IS91"}]},"mark":{"type":"text","font":"DejaVu Sans","fontSize":7.4,"color":"#444","align":"left","baseline":"middle"},"encoding":{"x":{"datum":0,"type":"quantitative","scale":{"domain":[-997.14,92.86],"nice":false,"zero":false},"axis":null},"y":{"datum":-0.236,"type":"quantitative","scale":{"domain":[-68.826,9.5797],"nice":false,"zero":false,"reverse":true},"axis":null},"text":{"field":"h"}}},
{"data":{"values":[{"h":"IS110"}]},"mark":{"type":"text","font":"DejaVu Sans","fontSize":7.4,"color":"#444","align":"left","baseline":"middle"},"encoding":{"x":{"datum":0,"type":"quantitative","scale":{"domain":[-1024.29,65.71],"nice":false,"zero":false},"axis":null},"y":{"datum":-0.236,"type":"quantitative","scale":{"domain":[-68.826,9.5797],"nice":false,"zero":false,"reverse":true},"axis":null},"text":{"field":"h"}}},
{"data":{"values":[{"h":"IS630"}]},"mark":{"type":"text","font":"DejaVu Sans","fontSize":7.4,"color":"#444","align":"left","baseline":"middle"},"encoding":{"x":{"datum":0,"type":"quantitative","scale":{"domain":[-1061.43,28.57],"nice":false,"zero":false},"axis":null},"y":{"datum":-0.236,"type":"quantitative","scale":{"domain":[-68.826,9.5797],"nice":false,"zero":false,"reverse":true},"axis":null},"text":{"field":"h"}}},
{"data":{"values":[{"t":"B"}]},"mark":{"type":"text","font":"DejaVu Sans","fontWeight":"bold","fontSize":13,"color":"#111","align":"left","baseline":"alphabetic"},"encoding":{"x":{"datum":-0.0221,"type":"quantitative","scale":{"domain":[-0.022366,0.163732],"nice":false,"zero":false},"axis":null},"y":{"datum":-3.584,"type":"quantitative","scale":{"domain":[-68.826,9.5797],"nice":false,"zero":false,"reverse":true},"axis":null},"text":{"field":"t"}}},
{"data":{"values":[{"t":"Tree scale: 0.01","x":-0.0217,"y":-0.894},{"t":"Bars scale: 25 IS","x":-0.0217,"y":0.538}]},"mark":{"type":"text","font":"Liberation Sans","fontWeight":"bold","fontSize":10,"color":"#6b6b6b","align":"left","baseline":"middle"},"encoding":{"x":{"field":"x","type":"quantitative","scale":{"domain":[-0.022366,0.163732],"nice":false,"zero":false},"axis":null},"y":{"field":"y","type":"quantitative","scale":{"domain":[-68.826,9.5797],"nice":false,"zero":false,"reverse":true},"axis":null},"text":{"field":"t"}}},
{"data":{"values":[{"x":-0.001634,"x2":0.008366,"y":-0.894,"y2":-0.894},{"x":-0.001634,"x2":-0.001634,"y":-1.1,"y2":-0.69},{"x":0.008366,"x2":0.008366,"y":-1.1,"y2":-0.69},{"x":0.003366,"x2":0.003366,"y":-1.08,"y2":-0.894}]},"mark":{"type":"rule","strokeWidth":1,"color":"#333"},"encoding":{"x":{"field":"x","type":"quantitative","scale":{"domain":[-0.022366,0.163732],"nice":false,"zero":false},"axis":null},"x2":{"field":"x2"},"y":{"field":"y","type":"quantitative","scale":{"domain":[-68.826,9.5797],"nice":false,"zero":false,"reverse":true},"axis":null},"y2":{"field":"y2"}}},
{"data":{"values":[{"x":-408.6,"x2":-383.6,"y":0.538,"y2":0.538},{"x":-408.6,"x2":-408.6,"y":0.16,"y2":0.92},{"x":-383.6,"x2":-383.6,"y":0.16,"y2":0.92}]},"mark":{"type":"rule","strokeWidth":2.2,"color":"#333"},"encoding":{"x":{"field":"x","type":"quantitative","scale":{"domain":[-541.86,548.14],"nice":false,"zero":false},"axis":null},"x2":{"field":"x2"},"y":{"field":"y","type":"quantitative","scale":{"domain":[-68.826,9.5797],"nice":false,"zero":false,"reverse":true},"axis":null},"y2":{"field":"y2"}}}
],
"resolve": {"scale": {"x": "independent", "y": "independent"}}
}
